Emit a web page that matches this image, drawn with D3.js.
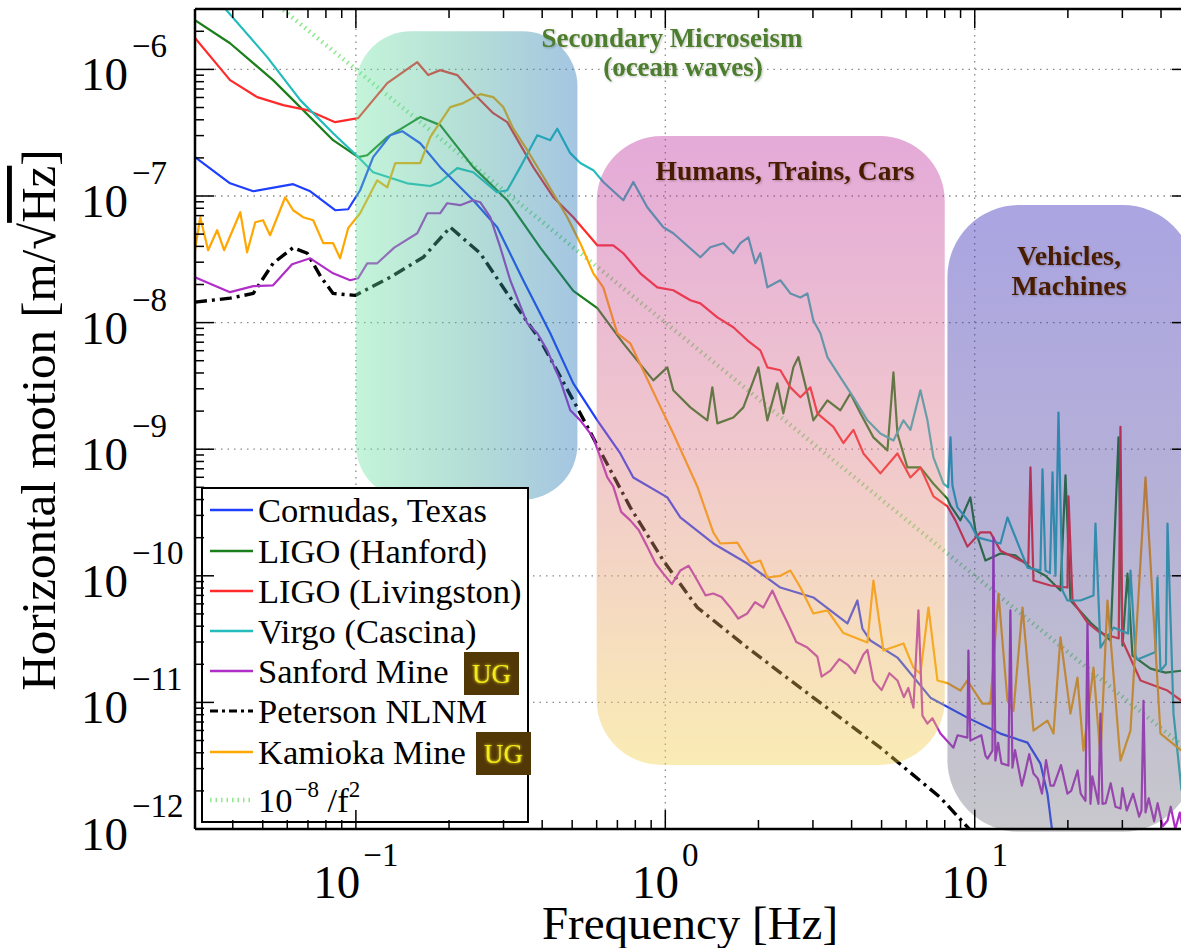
<!DOCTYPE html>
<html>
<head>
<meta charset="utf-8">
<script src="https://cdn.jsdelivr.net/npm/d3@7"></script>
<style>
  html, body { margin: 0; padding: 0; background: #fff; }
  svg { display: block; }
</style>
</head>
<body>
<svg id="chart" width="1181" height="948"></svg>
<script>
// ---------------- DATA (frequency [Hz], horizontal motion [m/sqrt(Hz)]) ----------------
const cornudas = [
  [0.0302,2.03e-7],[0.0392,1.26e-7],[0.0466,1.09e-7],[0.0627,1.24e-7],[0.0712,1.09e-7],[0.0857,7.72e-8],
  [0.0944,7.86e-8],[0.1032,1.11e-7],[0.1137,2.03e-7],[0.1291,3.02e-7],[0.1411,3.25e-7],[0.1614,2.61e-7],
  [0.1873,1.69e-7],[0.2394,9.26e-8],[0.2862,5.67e-8],[0.3474,2.16e-8],[0.4248,8.23e-9],[0.5042,3.31e-9],
  [0.6029,1.69e-9],[0.7154,9.26e-10],[0.788,5.98e-10],[1.015,4.16e-10],[1.118,2.89e-10],[1.429,1.80e-10],
  [1.841,1.25e-10],[2.354,8.08e-11],[3.009,6.74e-11],[3.877,4.20e-11],[4.176,6.38e-11],[4.335,3.83e-11],
  [4.601,3.08e-11],[5.625,2.26e-11],[7.192,1.09e-11],[9.47,7.58e-12],[12.11,5.67e-12],[14.81,4.81e-12],
  [16.31,3.28e-12],[17.18,1.90e-12],[17.97,8e-13]
];
const hanford = [
  [0.0302,2.45e-6],[0.0392,1.61e-6],[0.054,8.23e-7],[0.0627,5.72e-7],[0.0844,2.76e-7],[0.1017,2.03e-7],
  [0.1088,2.10e-7],[0.1263,2.92e-7],[0.1614,4.20e-7],[0.1873,3.63e-7],[0.2394,1.69e-7],[0.3084,9.26e-8],
  [0.3944,3.91e-8],[0.5042,1.78e-8],[0.6029,1.30e-8],[0.7316,6.86e-9],[0.9146,3.50e-9],[1.015,4.43e-9],
  [1.061,2.92e-9],[1.205,2.14e-9],[1.367,1.69e-9],[1.419,3.08e-9],[1.473,1.60e-9],[1.659,1.78e-9],
  [1.788,2.14e-9],[1.999,4.43e-9],[2.137,1.69e-9],[2.302,3.31e-9],[2.407,1.92e-9],[2.593,4.43e-9],
  [2.692,5.34e-9],[2.879,2.76e-9],[3.009,1.69e-9],[3.341,2.43e-9],[3.68,2.03e-9],[3.964,2.76e-9],
  [4.27,1.92e-9],[4.705,1.24e-9],[5.222,9.78e-10],[5.461,4.05e-9],[5.625,1.33e-9],[6.058,7.18e-10],
  [6.675,7.18e-10],[7.354,5.34e-10],[8.163,4.06e-10],[8.35,3.59e-10],[8.99,2.74e-10],[9.68,4.16e-10],
  [10.05,2.28e-10],[10.83,1.32e-10],[12.11,1.50e-10],[13.54,1.45e-10],[15.14,1.16e-10],[16.93,1.0e-10],
  [18.93,7.65e-11],[19.65,6.21e-10],[20.39,6.38e-11],[23.66,4.27e-11],[27.47,3.08e-11],[29.15,1.24e-9],
  [30.03,2.81e-11],[31.17,1.04e-10],[32.35,2.34e-11],[36.99,1.85e-11],[41.36,1.72e-11],[46.6,1.78e-11]
];
const livingston = [
  [0.0302,1.77e-6],[0.0392,8.23e-7],[0.048,6.04e-7],[0.0582,5.22e-7],[0.0696,4.77e-7],[0.0857,3.83e-7],
  [0.1017,4.12e-7],[0.1263,7.79e-7],[0.1579,1.14e-6],[0.1713,9.02e-7],[0.1873,9.87e-7],[0.2126,9.02e-7],
  [0.2394,6.50e-7],[0.2779,4.51e-7],[0.3084,3.83e-7],[0.3743,1.69e-7],[0.4345,9.78e-8],[0.5042,6.80e-8],
  [0.6029,4.08e-8],[0.6789,4.08e-8],[0.7316,3.53e-8],[0.8301,2.45e-8],[0.9422,1.90e-8],[1.061,1.80e-8],
  [1.205,1.50e-8],[1.298,1.42e-8],[1.473,1.10e-8],[1.659,9.18e-9],[1.841,7.25e-9],[2.028,6.04e-9],
  [2.137,4.43e-9],[2.354,4.20e-9],[2.536,3.08e-9],[2.733,2.57e-9],[2.943,3.08e-9],[3.1,1.92e-9],
  [3.493,1.50e-9],[3.763,1.12e-9],[4.055,1.42e-9],[4.368,9.26e-10],[4.956,6.44e-10],[5.625,9.26e-10],
  [6.196,5.98e-10],[6.675,7.18e-10],[7.354,4.24e-10],[8.163,3.53e-10],[8.66,2.74e-10],[9.47,1.70e-10],
  [10.43,2.20e-10],[11.24,2.20e-10],[12.11,1.58e-10],[14.05,1.32e-10],[14.9,1.25e-10],[15.14,7.18e-10],[15.48,9.18e-11],
  [17.57,8.38e-11],[19.94,8.08e-11],[20.09,4.24e-10],[20.7,6.38e-11],[23.14,4.27e-11],[25.49,3.53e-11],
  [29.2,3.2e-11],[29.58,1.50e-9],[30.0,3.08e-11],[34.35,1.49e-11],[41.98,1.24e-11],[46.6,1.03e-11]
];
const virgo = [
  [0.0302,5.67e-6],[0.0517,1.25e-6],[0.0661,5.72e-7],[0.0844,3.13e-7],[0.1017,2.03e-7],[0.1137,1.54e-7],
  [0.1465,1.26e-7],[0.1739,1.20e-7],[0.1873,1.29e-7],[0.2126,1.66e-7],[0.2394,1.54e-7],[0.2862,1.07e-7],
  [0.3084,1.11e-7],[0.3398,1.69e-7],[0.3857,3.02e-7],[0.4248,2.76e-7],[0.4475,3.40e-7],[0.493,2.18e-7],
  [0.5311,1.82e-7],[0.5851,1.60e-7],[0.6303,1.29e-7],[0.7316,9.26e-8],[0.788,1.29e-7],[0.8745,8.15e-8],
  [0.9852,5.67e-8],[1.061,5.08e-8],[1.298,3.28e-8],[1.398,3.94e-8],[1.54,4.24e-8],[1.659,3.53e-8],
  [1.748,4.24e-8],[1.855,4.72e-8],[1.954,2.94e-8],[2.028,3.53e-8],[2.137,1.90e-8],[2.354,2.16e-8],
  [2.536,1.70e-8],[2.733,1.58e-8],[2.879,1.70e-8],[3.009,1.04e-8],[3.171,8.23e-9],[3.341,5.34e-9],
  [3.68,3.69e-9],[4.055,2.57e-9],[4.499,1.69e-9],[4.956,1.33e-9],[5.461,1.17e-9],[5.884,1.69e-9],
  [6.196,1.42e-9],[6.675,2.92e-9],[7.033,1.69e-9],[7.354,8.61e-10],[7.925,5.34e-10],[8.2,5.0e-10],[8.35,1.24e-9],
  [8.47,5.17e-10],[8.79,3.47e-10],[9.68,2.59e-10],[10.2,2.01e-10],[12.11,1.80e-10],[12.76,2.89e-10],
  [14.81,1.16e-10],[16.3,1.1e-10],[16.56,6.92e-10],[16.93,1.10e-10],[17.5,1.05e-10],[17.84,6.55e-10],[18.24,1.0e-10],[18.65,1.95e-9],
  [19.21,7.65e-11],[19.94,6.38e-11],[21.97,6.38e-11],[24.2,7.0e-11],[24.56,2.59e-10],[25.49,2.71e-11],[28.09,3.90e-11],
  [31.3,3.5e-11],[31.87,1.10e-10],[33.09,2.34e-11],[33.58,2.18e-11],[38.4,2.5e-11],[38.96,9.69e-11],[39.84,1.78e-11],
  [41.5,2.0e-11],[41.98,2.59e-10],[43.9,8.15e-12],[46.6,2.01e-12]
];
const sanford = [
  [0.0302,2.28e-8],[0.0392,1.74e-8],[0.0466,1.94e-8],[0.054,1.97e-8],[0.0622,2.89e-8],[0.0712,3.22e-8],
  [0.0844,2.45e-8],[0.0958,2.16e-8],[0.1017,2.24e-8],[0.1088,2.94e-8],[0.1172,2.94e-8],[0.133,3.91e-8],
  [0.1579,5.08e-8],[0.17,7.31e-8],[0.1873,7.31e-8],[0.1973,8.77e-8],[0.2174,8.46e-8],[0.2394,9.26e-8],
  [0.2522,8.93e-8],[0.2718,6.80e-8],[0.2928,3.94e-8],[0.3154,2.16e-8],[0.358,9.87e-9],[0.3857,8.23e-9],
  [0.4154,6.04e-9],[0.4575,3.50e-9],[0.493,2.03e-9],[0.5311,1.69e-9],[0.5851,1.24e-9],[0.6494,5.98e-10],
  [0.6789,5.08e-10],[0.72,3.2e-10],[0.7705,2.74e-10],[0.82,2.3e-10],[0.8745,1.70e-10],[0.93,1.25e-10],
  [0.9852,1.04e-10],[1.05,8.6e-11],[1.118,1.10e-10],[1.19,1.2e-10],[1.269,9.18e-11],[1.35,7.0e-11],
  [1.429,7.25e-11],[1.52,6.8e-11],[1.622,5.62e-11],[1.72,4.6e-11],[1.841,5.04e-11],[1.95,6.2e-11],
  [2.074,5.62e-11],[2.218,7.65e-11],[2.35,5.6e-11],[2.48,4.27e-11],[2.65,3.0e-11],[2.879,2.71e-11],
  [3.1,2.3e-11],[3.2,1.6e-11],[3.416,1.78e-11],[3.65,2.2e-11],[3.877,1.99e-11],[4.1,1.7e-11],
  [4.368,2.39e-11],[4.5,2.6e-11],[4.705,1.49e-11],[5.0,1.25e-11],[5.3,1.7e-11],[5.625,1.49e-11],
  [5.9,1.1e-11],[6.1,1.3e-11],[6.337,9.10e-12],[6.577,5.33e-11],[6.776,7.87e-12],[7.033,6.80e-12],
  [7.3,7.5e-12],[7.747,5.67e-12],[8.0,5.2e-12],[8.534,4.39e-12],[8.8,5.5e-12],
  [9.47,5.27e-12],[9.54,2.57e-11],[9.68,4.99e-12],[10.5,5.5e-12],[10.83,3.80e-12],[11.0,3.6e-12],
  [11.41,4.16e-12],[11.49,2.01e-10],[11.66,3.47e-12],[11.9,4.8e-12],[12.2,3.3e-12],[12.85,3.17e-12],
  [13.04,5.33e-11],[13.24,3.05e-12],[13.5,4.2e-12],[14.2,2.2e-12],[14.5,2.7e-12],[15.0,3.9e-12],
  [15.48,2.74e-12],[16.0,2.5e-12],[16.5,1.9e-12],[17.0,3.5e-12],[17.57,2.20e-12],[18.0,2.2e-12],
  [19.0,3.2e-12],[19.94,1.90e-12],[20.5,2.0e-12],[21.5,2.9e-12],[22.0,1.9e-12],[22.8,1.67e-12],
  [23.14,4.20e-11],[23.66,1.58e-12],[24.0,2.6e-12],[25.11,1.58e-12],[25.49,8.15e-12],[25.87,1.58e-12],
  [26.5,1.6e-12],[27.5,2.3e-12],[28.5,1.5e-12],[29.58,1.45e-12],[30.0,2.1e-12],[31.0,1.4e-12],
  [32.5,1.9e-12],[34.0,1.25e-12],[34.59,1.40e-12],[35.11,1.03e-11],[35.64,1.35e-12],[36.5,1.75e-12],
  [38.0,1.15e-12],[39.0,1.6e-12],[40.5,1.05e-12],[41.98,1.16e-12],[43.0,1.5e-12],[44.5,1.0e-12],
  [46.0,1.35e-12],[46.6,1.10e-12]
];
const peterson = [
  [0.0302,1.45e-8],[0.0392,1.56e-8],[0.0466,1.70e-8],[0.054,2.94e-8],[0.0627,3.91e-8],[0.0696,3.53e-8],
  [0.0772,2.28e-8],[0.0844,1.70e-8],[0.0995,1.64e-8],[0.1291,2.28e-8],[0.1651,3.28e-8],[0.2018,5.67e-8],
  [0.2522,3.53e-8],[0.3084,1.70e-8],[0.3944,7.25e-9],[0.5042,2.43e-9],[0.6029,1.07e-9],[0.7705,3.47e-10],
  [0.9852,1.32e-10],[1.269,5.62e-11],[1.841,2.71e-11],[3.009,1.09e-11],[4.956,4.39e-12],[7.747,1.77e-12],
  [10.05,8.85e-13]
];
const kamioka = [
  [0.0302,3.73e-8],[0.0314,6.80e-8],[0.0333,3.73e-8],[0.0356,5.37e-8],[0.0375,3.73e-8],[0.0423,7.44e-8],
  [0.0445,3.59e-8],[0.0473,6.21e-8],[0.0501,6.44e-8],[0.0528,4.90e-8],[0.0591,9.78e-8],[0.0627,7.72e-8],
  [0.0675,6.80e-8],[0.0728,6.44e-8],[0.0784,4.24e-8],[0.0844,4.24e-8],[0.0889,3.22e-8],[0.0944,5.57e-8],
  [0.1032,7.31e-8],[0.1172,1.33e-7],[0.1263,1.17e-7],[0.134,1.82e-7],[0.1465,1.82e-7],[0.1614,1.82e-7],
  [0.1739,2.92e-7],[0.2018,5.04e-7],[0.2223,5.42e-7],[0.2522,6.38e-7],[0.2779,6.04e-7],[0.2994,5.04e-7],
  [0.3226,3.40e-7],[0.358,2.30e-7],[0.4154,1.26e-7],[0.4822,6.80e-8],[0.5311,4.24e-8],[0.5851,2.45e-8],
  [0.6303,1.90e-8],[0.6998,8.23e-9],[0.7705,6.86e-9],[0.9422,2.43e-9],[1.061,1.33e-9],[1.269,5.08e-10],
  [1.429,2.20e-10],[1.506,1.80e-10],[1.709,1.83e-10],[1.883,1.25e-10],[2.028,1.32e-10],[2.137,9.69e-11],
  [2.354,1.0e-10],[2.536,1.10e-10],[2.733,8.08e-11],[3.009,5.04e-11],[3.341,5.33e-11],[3.763,3.53e-11],
  [4.499,2.97e-11],[4.705,9.18e-11],[5.068,2.57e-11],[5.884,2.92e-11],[6.337,1.88e-11],[6.675,1.69e-11],
  [7.087,5.62e-11],[7.576,1.49e-11],[8.163,1.42e-11],[8.99,1.24e-11],[9.47,1.49e-11],[10.59,9.78e-12],
  [11.24,9.78e-12],[11.93,7.25e-11],[12.76,1.03e-11],[13.34,8.56e-12],[14.27,5.62e-11],[15.48,5.98e-12],
  [17.18,7.18e-12],[17.97,5.67e-12],[18.93,3.27e-11],[20.39,8.15e-12],[21.48,1.57e-11],[22.46,4.16e-12],
  [24.2,1.88e-11],[25.49,3.66e-12],[26.85,6.38e-11],[29.58,3.47e-12],[31.87,5.98e-12],[35.64,5.98e-10],
  [39.84,5.67e-12],[46.6,4.16e-12]
];
const refLine = [[0.0583,2.94e-6],[50,4.0e-12]];   // 10^-8 / f^2 guide

const seriesNames = ['Cornudas, Texas','LIGO (Hanford)','LIGO (Livingston)','Virgo (Cascina)',
                     'Sanford Mine','Peterson NLNM','Kamioka Mine','10^-8 /f^2'];
const xTickExps = [-1, 0, 1];
const yTickExps = [-12, -11, -10, -9, -8, -7, -6];
const bandFreqs = [[0.1, 0.52], [0.6, 8.0], [8.16, 51.3]];
const bandAmps  = [[2.0e-6, 4.0e-10], [2.98e-7, 3.2e-12], [8.5e-8, 9.5e-13]];
const bandLabels = [['Secondary Microseism','(ocean waves)'], ['Humans, Trains, Cars'], ['Vehicles,','Machines']];

// ---------------- SETUP ----------------
const svg = d3.select('#chart');
const L = 195, R = 1191, T = 9, B = 829;
const x = d3.scaleLog().domain([0.0302, 50]).range([L, R]);
const y = d3.scaleLog().domain([1e-12, 3e-6]).range([B, T]);
const serif = "'Liberation Serif','Times New Roman',serif";

const defs = svg.append('defs');
defs.append('clipPath').attr('id', 'plotClip')
  .append('rect').attr('x', L).attr('y', T).attr('width', R - L).attr('height', B - T);

function grad(id, horiz, stops) {
  const g = defs.append('linearGradient').attr('id', id)
    .attr('x1', 0).attr('y1', 0).attr('x2', horiz ? 1 : 0).attr('y2', horiz ? 0 : 1);
  stops.forEach(([o, c]) => g.append('stop').attr('offset', o).attr('stop-color', c));
}
grad('gMicro', true, [[0, '#6ce4a2'], [0.5, '#44ad99'], [1, '#1e70b6']]);
grad('gHuman', false, [[0, '#bb2a9e'], [0.5, '#da7682'], [1, '#f2cf44']]);
grad('gVeh', false, [[0, '#2b1cb6'], [0.5, '#493e98'], [1, '#767680']]);

const sh = defs.append('filter').attr('id', 'shadow').attr('x', '-10%').attr('y', '-30%').attr('width', '120%').attr('height', '160%');
sh.append('feDropShadow').attr('dx', 1).attr('dy', 1).attr('stdDeviation', 1.2)
  .attr('flood-color', '#000').attr('flood-opacity', 0.25);
const glow = defs.append('filter').attr('id', 'glow').attr('x', '-30%').attr('y', '-30%').attr('width', '160%').attr('height', '160%');
glow.append('feGaussianBlur').attr('in', 'SourceGraphic').attr('stdDeviation', 1.6).attr('result', 'b');
const gm = glow.append('feMerge');
gm.append('feMergeNode').attr('in', 'b');
gm.append('feMergeNode').attr('in', 'SourceGraphic');

// ---------------- GRID ----------------
const grid = svg.append('g');
yTickExps.forEach(e => {
  const v = Math.pow(10, e);
  if (e === -12) return;
  grid.append('line').attr('x1', L).attr('x2', R).attr('y1', y(v)).attr('y2', y(v))
    .attr('stroke', '#8a8a8a').attr('stroke-width', 1.3).attr('stroke-dasharray', '1.5,5');
});
xTickExps.forEach(e => {
  const v = Math.pow(10, e);
  grid.append('line').attr('y1', T).attr('y2', B).attr('x1', x(v)).attr('x2', x(v))
    .attr('stroke', '#8a8a8a').attr('stroke-width', 1.3).attr('stroke-dasharray', '1.5,5');
});

// ---------------- SERIES ----------------
const series = [
  { name: seriesNames[0], data: cornudas,   color: '#1f3fff', w: 2.2 },
  { name: seriesNames[1], data: hanford,    color: '#1a7f1a', w: 2.2 },
  { name: seriesNames[2], data: livingston, color: '#ff2b2b', w: 2.2 },
  { name: seriesNames[3], data: virgo,      color: '#22bcbc', w: 2.2 },
  { name: seriesNames[4], data: sanford,    color: '#b02ec8', w: 2.2, ug: true },
  { name: seriesNames[5], data: peterson,   color: '#000000', w: 3.4, dash: '12,5,3,5' },
  { name: seriesNames[6], data: kamioka,    color: '#ffa600', w: 2.2, ug: true },
  { name: seriesNames[7], data: refLine,    color: '#8fe88f', w: 4.5, dash: '1.5,4' }
];
const drawOrder = [7, 1, 2, 3, 0, 5, 6, 4];
const line = d3.line().x(d => x(d[0])).y(d => y(d[1]));
const lines = svg.append('g').attr('clip-path', 'url(#plotClip)');
drawOrder.forEach(i => {
  const s = series[i];
  const pts = s.data.slice().sort((a, b) => a[0] - b[0]);
  lines.append('path').datum(pts).attr('d', line)
    .attr('fill', 'none').attr('stroke', s.color).attr('stroke-width', s.w)
    .attr('stroke-linejoin', 'round')
    .attr('stroke-dasharray', s.dash || null);
});

// ---------------- BANDS (translucent overlays) ----------------
const bandFill = ['url(#gMicro)', 'url(#gHuman)', 'url(#gVeh)'];
const bandR = [55, 65, 72];
const bands = svg.append('g');
bandFreqs.forEach((f, i) => {
  const x0 = x(f[0]), x1 = x(f[1]), y0 = y(bandAmps[i][0]), y1 = y(bandAmps[i][1]);
  bands.append('rect').attr('x', x0).attr('y', y0).attr('width', x1 - x0).attr('height', y1 - y0)
    .attr('rx', bandR[i]).attr('ry', bandR[i])
    .attr('fill', bandFill[i]).attr('fill-opacity', 0.4);
});
// band labels
const labelPos = [[[672, 47], [683, 76]], [[785, 180]], [[1069, 265], [1069, 295]]];
const labelColor = ['#4e7d2e', '#4a1f06', '#4a1f06'];
const labelSize = [27, 27.5, 28];
bandLabels.forEach((lines2, i) => {
  lines2.forEach((t, j) => {
    svg.append('text').attr('x', labelPos[i][j][0]).attr('y', labelPos[i][j][1])
      .attr('text-anchor', 'middle').attr('font-family', serif).attr('font-weight', 'bold')
      .attr('font-size', labelSize[i]).attr('fill', labelColor[i]).attr('filter', 'url(#shadow)')
      .text(t);
  });
});

// ---------------- LEGEND ----------------
const lg = svg.append('g');
lg.append('rect').attr('x', 202).attr('y', 488).attr('width', 326).attr('height', 334)
  .attr('fill', '#fff').attr('stroke', '#000').attr('stroke-width', 2);
const rowBase = [522, 563, 603, 643, 683, 723, 764, 812];
series.forEach((s, i) => {
  const by = rowBase[i];
  lg.append('line').attr('x1', 210).attr('x2', 253).attr('y1', by - 12).attr('y2', by - 12)
    .attr('stroke', s.color).attr('stroke-width', i === 5 ? 3.2 : (i === 7 ? 4.5 : 2.4))
    .attr('stroke-dasharray', i === 5 ? '8,4,3,4' : (i === 7 ? '1.5,4' : null));
  const t = lg.append('text').attr('x', 258).attr('y', by)
    .attr('font-family', serif).attr('font-size', 34.5).attr('fill', '#000');
  if (i === 7) {
    t.append('tspan').text('10');
    t.append('tspan').attr('font-size', 23).attr('dy', -15).attr('dx', 2).text('\u22128');
    t.append('tspan').attr('dy', 15).text(' /f');
    t.append('tspan').attr('font-size', 23).attr('dy', -15).text('2');
  } else {
    t.text(s.name);
  }
  if (s.ug) {
    const bx = i === 4 ? 464 : 476, byy = i === 4 ? 652 : 732;
    lg.append('rect').attr('x', bx).attr('y', byy).attr('width', 55).attr('height', 43)
      .attr('fill', '#523807');
    lg.append('text').attr('x', bx + 27.5).attr('y', byy + 31).attr('text-anchor', 'middle')
      .attr('font-family', serif).attr('font-size', 27).attr('fill', '#f4ea1a')
      .attr('filter', 'url(#glow)').text('UG');
  }
});

// ---------------- AXES FRAME & TICKS ----------------
const ax = svg.append('g').attr('stroke', '#000');
ax.append('line').attr('x1', L).attr('x2', L).attr('y1', T).attr('y2', B).attr('stroke-width', 2.5);
ax.append('line').attr('x1', L).attr('x2', R).attr('y1', B).attr('y2', B).attr('stroke-width', 2.5);
ax.append('line').attr('x1', L).attr('x2', R).attr('y1', T).attr('y2', T).attr('stroke-width', 2.5);
ax.append('line').attr('x1', R).attr('x2', R).attr('y1', T).attr('y2', B).attr('stroke-width', 2.5);

const xMajors = [], xMinors = [], yMajors = [], yMinors = [];
for (let e = -2; e <= 1; e++) for (let k = 1; k <= 9; k++) {
  const v = k * Math.pow(10, e);
  if (v < 0.0302 || v > 50) continue;
  (k === 1 ? xMajors : xMinors).push(v);
}
for (let e = -12; e <= -6; e++) for (let k = 1; k <= 9; k++) {
  const v = k * Math.pow(10, e);
  if (v < 1e-12 || v > 3e-6) continue;
  (k === 1 ? yMajors : yMinors).push(v);
}
const MJ = 19, MN = 9;
[[xMajors, MJ], [xMinors, MN]].forEach(([vals, len]) => vals.forEach(v => {
  ax.append('line').attr('x1', x(v)).attr('x2', x(v)).attr('y1', B).attr('y2', B - len).attr('stroke-width', 1.5);
  ax.append('line').attr('x1', x(v)).attr('x2', x(v)).attr('y1', T).attr('y2', T + len).attr('stroke-width', 1.5);
}));
[[yMajors, MJ], [yMinors, MN]].forEach(([vals, len]) => vals.forEach(v => {
  ax.append('line').attr('y1', y(v)).attr('y2', y(v)).attr('x1', L).attr('x2', L + len).attr('stroke-width', 1.5);
  ax.append('line').attr('y1', y(v)).attr('y2', y(v)).attr('x1', R).attr('x2', R - len).attr('stroke-width', 1.5);
}));

// tick labels
yTickExps.forEach(e => {
  const ty = y(Math.pow(10, e));
  const t = svg.append('text').attr('x', 81).attr('y', ty + 21)
    .attr('font-family', serif).attr('font-size', 47).attr('fill', '#000');
  t.append('tspan').text('10');
  t.append('tspan').attr('font-size', 33).attr('dx', 4).attr('dy', -33).text(String(e).replace('-', '\u2212'));
});
xTickExps.forEach(e => {
  const tx = x(Math.pow(10, e));
  const t = svg.append('text').attr('x', tx).attr('y', 898).attr('text-anchor', 'middle')
    .attr('font-family', serif).attr('font-size', 47).attr('fill', '#000');
  t.append('tspan').text('10');
  t.append('tspan').attr('font-size', 33).attr('dx', 3).attr('dy', -32).text(String(e).replace('-', '\u2212'));
});

// axis titles
svg.append('text').attr('x', 690).attr('y', 939).attr('text-anchor', 'middle')
  .attr('font-family', serif).attr('font-size', 47).attr('fill', '#000').text('Frequency [Hz]');
const yt = svg.append('text').attr('transform', 'translate(55,420) rotate(-90)')
  .attr('text-anchor', 'middle').attr('font-family', serif).attr('font-size', 49).attr('fill', '#000');
yt.append('tspan').text('Horizontal motion [m/\u221A');
yt.append('tspan').style('text-decoration', 'overline').text('Hz');
yt.append('tspan').text(']');
</script>
</body>
</html>
